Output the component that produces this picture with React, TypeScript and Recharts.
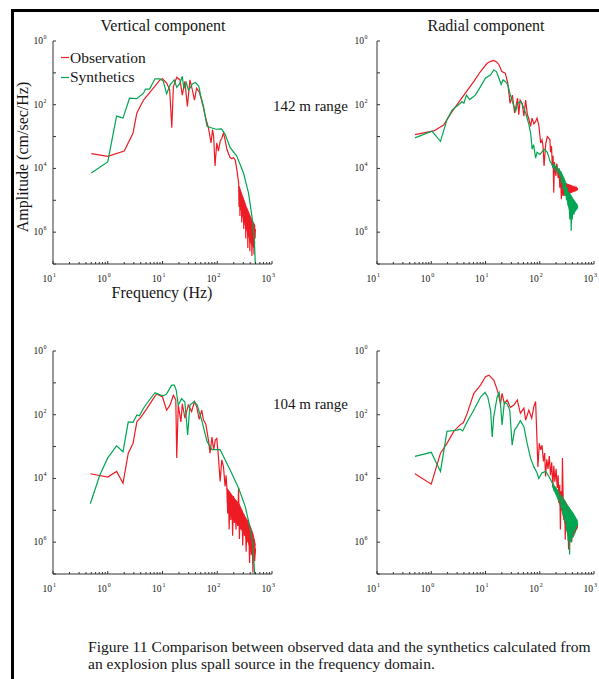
import { ComposedChart, Line, Area, XAxis, YAxis } from 'recharts'

type Pt = [number, number] // [frequency Hz, amplitude cm/sec/Hz]
type Band = [number, number, number] // [frequency Hz, lower, upper] envelope of a dense tail

const SERIF = '"Liberation Serif", "Times New Roman", serif'
const RED = '#ed1c24'
const GREEN = '#00a651'
const AXIS = '#333333'
const INK = '#161616'
const LINE_W = 1.2

// log axes: decades carry labels, the rest are minor marks
const freqDecades = [0.1, 1, 10, 100, 1000]
const freqDecadeLabels = ['1', '0', '1', '2', '3']
const freqMinorSteps = [2, 3, 4, 5, 6, 7, 8, 9]
const ampDecades = [1, 1e-1, 1e-2, 1e-3, 1e-4, 1e-5, 1e-6, 1e-7]
const ampLabels = ['0', '', '2', '', '4', '', '6', '']

// 142 m range, vertical component
const verticalObs142: Pt[] = [
  [0.5, 2.9e-4], [1.0, 2.4e-4], [2.0, 3.5e-4], [2.9, 1.3e-3], [3.4, 5.5e-3], [4.5, 1.4e-2],
  [6.8, 3.3e-2], [9.0, 6.0e-2], [10, 6.5e-2], [11.9, 4.8e-2], [13.5, 3.0e-2], [14.8, 1.9e-3],
  [15.8, 3.7e-2], [18.2, 7.3e-2], [20.9, 6.0e-2], [23, 2.0e-2], [25.6, 5.4e-2], [28.5, 8.9e-3],
  [31.7, 6.0e-2], [35, 3.0e-2], [38.4, 1.4e-2], [42, 3.3e-2], [47, 2.5e-2], [52, 1.35e-2],
  [56, 7.9e-3], [60, 4.5e-3], [69, 1.86e-3], [77, 6.3e-4], [82, 1.66e-3], [86, 1.0e-3],
  [91, 1.2e-4], [98, 6.3e-4], [105, 3.5e-4], [113, 7.1e-4], [121, 8.9e-4], [130, 1.3e-3],
  [139, 7.9e-4], [150, 4.0e-4], [162, 2.8e-4], [172, 2.2e-4], [185, 2.0e-4], [198, 2.2e-4],
  [214, 1.8e-4], [229, 8.7e-5], [246, 3.5e-5], [250, 6.3e-6], [255, 2.5e-5], [260, 3.2e-6],
  [265, 2.0e-5], [270, 5.0e-6], [275, 1.6e-5], [280, 2.0e-6], [285, 1.26e-5], [292, 4.0e-6],
  [298, 1.0e-5], [305, 1.26e-6], [312, 7.9e-6], [318, 2.5e-6], [325, 6.3e-6], [332, 6.3e-7],
  [340, 5.0e-6], [348, 1.26e-6], [355, 4.5e-6], [362, 3.2e-7], [370, 3.2e-6], [378, 7.9e-7],
  [386, 3.2e-6], [394, 2.5e-7], [402, 2.5e-6], [410, 5.0e-7], [420, 2.0e-6], [430, 1.8e-7],
  [440, 1.6e-6], [450, 4.0e-7], [460, 1.26e-6], [470, 2.0e-7], [480, 1.6e-6], [490, 6.3e-7],
  [497, 1.26e-6],
]
const verticalObs142Band: Band[] = [
  [250, 1.26e-5, 2.8e-5], [280, 4.0e-6, 1.6e-5], [310, 2.0e-6, 1.0e-5], [340, 1.26e-6, 6.3e-6],
  [370, 7.9e-7, 4.5e-6], [400, 5.0e-7, 3.2e-6], [430, 4.0e-7, 2.5e-6], [460, 3.2e-7, 2.0e-6],
  [490, 5.0e-7, 1.6e-6],
]
const verticalSyn142: Pt[] = [
  [0.5, 7.2e-5], [1.0, 1.6e-4], [1.45, 4.4e-3], [1.9, 3.8e-3], [2.5, 1.6e-2], [3.4, 1.55e-2],
  [4.5, 2.3e-2], [4.9, 3.1e-2], [5.8, 3.1e-2], [7.3, 6.5e-2], [9.0, 6.5e-2], [10.3, 5.6e-2],
  [11.9, 2.2e-2], [13.8, 4.2e-2], [16.4, 6.0e-2], [18.2, 3.5e-2], [20.5, 4.5e-2], [23, 7.8e-2],
  [24.5, 3.2e-2], [27, 5.0e-2], [30, 2.8e-2], [35, 4.5e-2], [40, 5.0e-2], [46, 3.8e-2],
  [50, 1.9e-2], [56, 9.0e-3], [65, 2.1e-3], [80, 1.86e-3], [95, 1.7e-3], [120, 1.74e-3],
  [140, 1.15e-3], [172, 4.5e-4], [226, 2.5e-4], [302, 7.2e-5], [372, 1.7e-5], [430, 3.2e-6],
  [475, 6.0e-7], [495, 1.1e-7],
]

// 142 m range, radial component
const radialObs142: Pt[] = [
  [0.5, 1.15e-3], [1.11, 1.5e-3], [1.69, 2.3e-3], [2.43, 6.2e-3], [4.0, 2.0e-2], [6.1, 5.4e-2],
  [8.1, 0.11], [10.7, 0.2], [12.5, 0.23], [14.2, 0.245], [16, 0.22], [17.7, 0.18], [20, 0.11],
  [23.2, 0.098], [25.7, 0.048], [28.4, 0.011], [31.3, 0.02], [34.5, 5.5e-3], [39, 0.016],
  [41, 4.9e-3], [43.5, 0.014], [47.5, 0.011], [51, 4.4e-3], [55, 0.014], [59, 5.0e-3],
  [63, 3.5e-3], [68, 2.1e-3], [72, 3.8e-3], [78, 2.5e-3], [84, 3.0e-3], [89, 3.8e-3],
  [96, 2.3e-3], [104, 6.3e-4], [110, 7.9e-4], [115, 5.0e-4], [120, 1.2e-4], [129, 6.0e-4],
  [138, 1.0e-3], [146, 8.9e-4], [154, 7.9e-4], [158, 3.2e-4], [165, 5.0e-4], [170, 1.2e-4],
  [176, 2.5e-4], [181, 1.74e-5], [187, 1.6e-4], [193, 7.9e-5], [199, 5.8e-5], [205, 1.4e-4],
  [210, 1.2e-4], [218, 5.0e-5], [226, 1.0e-4], [234, 2.5e-5], [242, 6.3e-5], [250, 1.07e-5],
  [258, 5.0e-5], [266, 1.4e-5], [273, 4.5e-5], [282, 1.6e-5], [292, 3.5e-5], [302, 1.6e-5],
  [313, 3.3e-5], [324, 1.66e-5], [336, 3.2e-5], [348, 1.74e-5], [360, 3.0e-5], [373, 1.8e-5],
  [386, 2.9e-5], [400, 1.9e-5], [415, 2.75e-5], [430, 2.0e-5], [446, 2.6e-5], [462, 2.1e-5],
  [480, 2.5e-5], [500, 2.2e-5],
]
const radialObs142Band: Band[] = [
  [270, 1.4e-5, 3.5e-5], [330, 1.6e-5, 3.2e-5], [400, 1.8e-5, 2.8e-5], [460, 2.0e-5, 2.5e-5],
  [500, 2.1e-5, 2.3e-5],
]
const radialSyn142: Pt[] = [
  [0.5, 9.1e-4], [1.03, 1.48e-3], [1.48, 7.1e-4], [1.95, 3.4e-3], [2.43, 6.9e-3], [3.2, 1.0e-2],
  [3.7, 1.26e-2], [4.0, 1.12e-2], [4.45, 2.0e-2], [5.1, 1.45e-2], [6.5, 2.0e-2], [8.1, 3.7e-2],
  [9.96, 6.8e-2], [12.4, 8.7e-2], [14.2, 0.123], [15.9, 0.11], [17.7, 6.8e-2], [19.4, 4.3e-2],
  [21, 6.0e-2], [23.2, 5.4e-2], [25.7, 4.3e-2], [28.7, 2.0e-2], [33.4, 8.9e-3], [36, 6.3e-3],
  [39.5, 1.12e-2], [44, 1.26e-2], [48, 1.0e-2], [55, 5.5e-3], [63, 2.4e-3], [68, 1.26e-3],
  [72.5, 4.0e-4], [77, 5.6e-4], [84, 2.1e-4], [89, 3.2e-4], [101, 2.75e-4], [120, 4.0e-4],
  [138, 3.2e-4], [154, 1.7e-4], [170, 1.32e-4], [178, 1.0e-4], [186, 1.41e-4], [195, 8.9e-5],
  [205, 1.12e-4], [215, 7.1e-5], [226, 1.0e-4], [234, 5.8e-5], [242, 8.3e-5], [251, 3.5e-5],
  [260, 6.3e-5], [270, 2.2e-5], [279, 4.5e-5], [290, 1.4e-5], [300, 3.5e-5], [311, 1.0e-5],
  [322, 2.5e-5], [333, 6.6e-6], [345, 1.74e-5], [358, 2.5e-6], [371, 1.4e-5], [380, 1.1e-6],
  [390, 1.12e-5], [398, 2.5e-6], [410, 1.0e-5], [427, 3.5e-6], [440, 8.9e-6], [458, 4.7e-6],
  [475, 7.9e-6], [491, 5.5e-6], [500, 6.6e-6],
]
const radialSyn142Band: Band[] = [
  [170, 1.12e-4, 1.32e-4], [200, 8.9e-5, 1.12e-4], [242, 5.8e-5, 8.3e-5], [280, 2.5e-5, 5.0e-5],
  [320, 1.0e-5, 2.8e-5], [360, 4.0e-6, 1.6e-5], [400, 3.5e-6, 1.2e-5], [450, 4.5e-6, 8.9e-6],
  [500, 5.9e-6, 6.9e-6],
]

// 104 m range, vertical component
const verticalObs104: Pt[] = [
  [0.48, 1.4e-4], [1.0, 1.1e-4], [1.45, 1.66e-4], [1.9, 7.1e-5], [2.37, 6.2e-4], [2.9, 1.26e-3],
  [3.4, 6.0e-3], [4.1, 8.7e-3], [5.1, 1.5e-2], [6.8, 3.2e-2], [7.8, 4.5e-2], [10, 3.6e-2],
  [11.9, 1.4e-2], [13.7, 2.0e-2], [15.8, 4.1e-2], [17.5, 2.9e-2], [18.2, 4.4e-4], [19.4, 2.0e-2],
  [21.7, 6.0e-3], [23, 2.2e-2], [25.7, 7.8e-3], [29.6, 2.0e-2], [34, 1.26e-2], [38.4, 2.6e-2],
  [42, 1.8e-2], [47, 7.1e-3], [52, 1.4e-2], [56, 6.8e-3], [62, 5.0e-3], [69, 1.6e-3],
  [74, 6.2e-4], [80, 2.0e-3], [86, 7.9e-4], [92, 1.6e-3], [98, 1.8e-3], [105, 4.9e-4],
  [113, 8.1e-5], [121, 3.8e-4], [130, 2.3e-4], [139, 5.6e-5], [145, 1.26e-4], [150, 5.0e-5],
  [155, 7.9e-6], [160, 4.0e-5], [165, 2.5e-6], [171, 3.2e-5], [177, 5.0e-6], [184, 2.5e-5],
  [191, 1.6e-6], [198, 2.8e-5], [205, 4.0e-6], [212, 2.0e-5], [220, 2.5e-6], [228, 1.6e-5],
  [236, 3.2e-6], [245, 5.0e-5], [254, 1.26e-6], [263, 1.26e-5], [272, 2.5e-6], [282, 1.0e-5],
  [292, 7.9e-7], [303, 7.9e-6], [314, 1.6e-6], [325, 5.6e-6], [337, 5.0e-7], [349, 5.0e-6],
  [362, 1.0e-6], [375, 3.5e-6], [389, 2.2e-7], [403, 3.2e-6], [418, 4.0e-7], [433, 2.0e-6],
  [449, 1.1e-7], [465, 1.26e-6], [482, 2.5e-7], [500, 6.3e-7],
]
const verticalObs104Band: Band[] = [
  [150, 2.0e-5, 5.0e-5], [200, 5.0e-6, 2.5e-5], [250, 3.2e-6, 1.6e-5], [300, 2.0e-6, 7.9e-6],
  [350, 1.26e-6, 5.0e-6], [400, 6.3e-7, 3.2e-6], [450, 3.2e-7, 1.8e-6], [500, 5.0e-7, 7.9e-7],
]
const verticalSyn104: Pt[] = [
  [0.48, 1.6e-5], [0.72, 1.3e-4], [1.0, 4.4e-4], [1.45, 1.05e-3], [1.9, 6.9e-4], [2.37, 6.0e-3],
  [2.9, 5.8e-3], [3.4, 9.8e-3], [3.8, 9.3e-3], [4.5, 1.6e-2], [5.5, 2.6e-2], [7.3, 4.9e-2],
  [9.0, 4.2e-2], [10.3, 3.9e-2], [11.9, 4.5e-2], [14.7, 8.5e-2], [16.4, 8.5e-2], [17.8, 5.9e-2],
  [19.4, 2.0e-2], [22.3, 3.2e-2], [25.6, 2.5e-2], [28.8, 2.3e-3], [31.7, 2.0e-2], [37.9, 2.6e-2],
  [43, 2.0e-2], [52, 6.8e-3], [65, 1.45e-3], [80, 8.0e-4], [113, 8.0e-4], [130, 4.9e-4],
  [171, 1.86e-4], [245, 5.0e-5], [325, 1.3e-5], [403, 2.5e-6], [450, 7.4e-7], [480, 1.1e-7],
  [495, 5.0e-8],
]

// 104 m range, radial component
const radialObs104: Pt[] = [
  [0.5, 1.4e-4], [1.0, 6.6e-5], [1.48, 6.2e-4], [1.95, 1.26e-3], [2.6, 3.0e-3], [3.4, 4.8e-3],
  [3.9, 5.6e-3], [4.6, 1.1e-2], [6.1, 4.7e-2], [8.1, 8.5e-2], [10, 0.155], [11.6, 0.174],
  [14.3, 0.12], [16.9, 5.2e-2], [18.9, 2.2e-2], [20.2, 4.7e-2], [22.3, 2.2e-2], [25, 2.9e-2],
  [28.7, 1.7e-2], [33.4, 2.0e-2], [38.5, 2.9e-2], [44, 1.1e-2], [51, 1.6e-2], [55, 6.8e-3],
  [63, 1.4e-2], [71, 7.8e-3], [77.9, 1.8e-2], [83.9, 2.6e-2], [87.6, 3.3e-3], [92.5, 2.3e-4],
  [98, 1.26e-3], [104, 7.9e-4], [110, 1.1e-3], [117, 3.4e-4], [123, 6.3e-4], [128, 1.15e-4],
  [135, 4.0e-4], [142, 2.0e-4], [150, 5.0e-4], [158, 1.26e-4], [166, 3.2e-4], [174, 5.6e-5],
  [182, 2.5e-4], [190, 7.9e-5], [200, 2.0e-4], [210, 5.0e-5], [218, 1.26e-4], [226, 1.7e-5],
  [234, 6.3e-5], [240, 2.5e-6], [248, 4.0e-5], [256, 1.0e-5], [262, 4.4e-4], [270, 2.5e-5],
  [280, 5.0e-6], [290, 2.0e-5], [295, 1.2e-6], [305, 1.6e-5], [315, 2.5e-6], [325, 1.26e-5],
  [340, 5.9e-7], [350, 1.0e-5], [362, 1.6e-6], [375, 7.9e-6], [388, 1.0e-6], [400, 6.3e-6],
  [415, 1.6e-6], [430, 5.0e-6], [445, 2.0e-6], [460, 4.5e-6], [480, 2.5e-6], [500, 3.5e-6],
]
const radialSyn104: Pt[] = [
  [0.5, 4.9e-4], [1.0, 6.6e-4], [1.48, 1.66e-4], [1.95, 3.0e-3], [2.6, 3.2e-3], [3.0, 3.3e-3],
  [3.4, 3.5e-3], [3.8, 3.1e-3], [4.6, 6.0e-3], [6.1, 1.4e-2], [8.1, 3.6e-2], [9.8, 5.0e-2],
  [11.0, 3.6e-2], [12.4, 1.4e-2], [13.3, 2.0e-3], [14.2, 8.7e-3], [16.4, 3.6e-2], [17.9, 4.9e-2],
  [18.9, 2.2e-2], [20.2, 4.8e-3], [22.3, 2.5e-2], [25, 2.2e-2], [28, 1.4e-2], [31, 1.1e-3],
  [34.3, 3.3e-3], [38.5, 4.4e-3], [44, 6.5e-3], [51, 4.2e-3], [58.6, 1.26e-3], [67.5, 4.4e-4],
  [77.9, 2.3e-4], [89, 1.5e-4], [96, 1.0e-4], [110, 1.5e-4], [129, 1.66e-4], [148, 1.15e-4],
  [171, 7.1e-5], [175, 6.3e-5], [182, 4.5e-5], [190, 5.6e-5], [198, 3.5e-5], [206, 4.5e-5],
  [214, 2.5e-5], [222, 4.0e-5], [231, 1.8e-5], [240, 3.2e-5], [250, 1.1e-5], [260, 2.8e-5],
  [270, 7.1e-6], [280, 2.2e-5], [290, 4.5e-6], [300, 1.8e-5], [311, 2.5e-6], [322, 1.4e-5],
  [333, 1.1e-6], [345, 1.26e-5], [355, 4.1e-7], [366, 1.05e-5], [378, 1.0e-6], [390, 8.9e-6],
  [403, 1.4e-6], [417, 7.9e-6], [432, 2.0e-6], [447, 6.3e-6], [462, 2.5e-6], [478, 5.2e-6],
  [492, 3.2e-6], [500, 4.0e-6],
]
const radialSyn104Band: Band[] = [
  [171, 5.6e-5, 7.1e-5], [210, 2.5e-5, 4.5e-5], [250, 1.12e-5, 2.8e-5], [290, 4.0e-6, 2.0e-5],
  [330, 1.6e-6, 1.4e-5], [370, 1.26e-6, 1.05e-5], [410, 1.4e-6, 8.3e-6], [450, 2.0e-6, 6.3e-6],
  [500, 3.2e-6, 4.5e-6],
]

const freqTicks = freqDecades.flatMap((d, i) =>
  i < freqDecades.length - 1 ? [d, ...freqMinorSteps.map((m) => m * d)] : [d]
)

function FreqTick(props: any) {
  const { x, y, payload } = props
  const idx = freqDecades.indexOf(payload.value)
  const major = idx >= 0
  return (
    <g>
      <line x1={x} x2={x} y1={y} y2={y - (major ? 3 : 2)} stroke={AXIS} strokeWidth={1} />
      {major && (
        <>
          <text x={x - 1} y={y + 18} textAnchor="end" fontSize={9.5} fontFamily={SERIF} fill={INK}>
            10
          </text>
          <text x={x} y={y + 13} fontSize={6} fontFamily={SERIF} fill={INK}>
            {freqDecadeLabels[idx]}
          </text>
        </>
      )}
    </g>
  )
}

function AmpTick(props: any) {
  const { x, y, payload, gap } = props
  const label = ampLabels[ampDecades.indexOf(payload.value)]
  return (
    <g>
      <line x1={x} x2={x + 3} y1={y} y2={y} stroke={AXIS} strokeWidth={1} />
      {label && (
        <>
          <text x={x - gap} y={y + 3} textAnchor="end" fontSize={9.5} fontFamily={SERIF} fill={INK}>
            10
          </text>
          <text x={x - gap + 0.5} y={y - 2} fontSize={6} fontFamily={SERIF} fill={INK}>
            {label}
          </text>
        </>
      )}
    </g>
  )
}

const toRows = (pts: Pt[]) => pts.map(([f, a]) => ({ f, a }))
const toBandRows = (pts: Band[]) => pts.map(([f, lo, hi]) => ({ f, band: [lo, hi] }))

function Spectrum({
  left,
  top,
  width,
  axisWidth,
  rightPad,
  labelGap,
  obs,
  syn,
  obsBand,
  synBand,
}: {
  left: number
  top: number
  width: number
  axisWidth: number
  rightPad: number
  labelGap: number
  obs: Pt[]
  syn: Pt[]
  obsBand?: Band[]
  synBand?: Band[]
}) {
  return (
    <div style={{ position: 'absolute', left, top }}>
      <ComposedChart width={width} height={300} margin={{ top: 41, right: rightPad, bottom: 0, left: 0 }}>
        <XAxis
          type="number"
          dataKey="f"
          scale="log"
          domain={[0.1, 1000]}
          allowDataOverflow
          ticks={freqTicks}
          interval={0}
          tickSize={0}
          tickMargin={0}
          tickLine={false}
          height={36}
          stroke={AXIS}
          tick={(p: any) => <FreqTick {...p} />}
        />
        <YAxis
          type="number"
          scale="log"
          domain={[1e-7, 1]}
          allowDataOverflow
          ticks={ampDecades}
          interval={0}
          tickSize={0}
          tickMargin={0}
          tickLine={false}
          width={axisWidth}
          stroke={AXIS}
          tick={(p: any) => <AmpTick {...p} gap={labelGap} />}
        />
        {obsBand && (
          <Area data={toBandRows(obsBand)} dataKey="band" type="linear" stroke={RED} strokeWidth={0.8} fill={RED} fillOpacity={1} isAnimationActive={false} />
        )}
        <Line data={toRows(obs)} dataKey="a" stroke={RED} strokeWidth={LINE_W} dot={false} isAnimationActive={false} />
        {synBand && (
          <Area data={toBandRows(synBand)} dataKey="band" type="linear" stroke={GREEN} strokeWidth={0.8} fill={GREEN} fillOpacity={1} isAnimationActive={false} />
        )}
        <Line data={toRows(syn)} dataKey="a" stroke={GREEN} strokeWidth={LINE_W} dot={false} isAnimationActive={false} />
      </ComposedChart>
    </div>
  )
}

export default function App() {
  const txt = { fontFamily: SERIF, fill: INK }
  return (
    <div style={{ position: 'absolute', left: 0, top: 0, width: 599, height: 679, overflow: 'hidden', background: '#fff' }}>
      <div
        style={{
          position: 'absolute',
          left: 11,
          top: 9,
          width: 620,
          height: 700,
          borderTop: '3px solid #000',
          borderLeft: '3px solid #000',
        }}
      />
      <svg width={599} height={679} style={{ position: 'absolute', left: 0, top: 0 }}>
        <text x={163} y={31} textAnchor="middle" fontSize={16} {...txt}>Vertical component</text>
        <text x={486} y={31} textAnchor="middle" fontSize={16} {...txt}>Radial component</text>
        <line x1={61} x2={69} y1={57.5} y2={57.5} stroke={RED} strokeWidth={1.2} />
        <text x={70} y={63} fontSize={15.5} {...txt}>Observation</text>
        <line x1={61} x2={69} y1={77.5} y2={77.5} stroke={GREEN} strokeWidth={1.2} />
        <text x={70} y={82} fontSize={15.5} {...txt}>Synthetics</text>
        <text x={273} y={111} fontSize={15} {...txt}>142 m range</text>
        <text x={273} y={409} fontSize={15} {...txt}>104 m range</text>
        <text transform="translate(28 157) rotate(-90)" textAnchor="middle" fontSize={16} {...txt}>
          Amplitude  (cm/sec/Hz)
        </text>
        <text x={162} y={298} textAnchor="middle" fontSize={16} {...txt}>Frequency  (Hz)</text>
        <text x={88} y={652} fontSize={15.6} {...txt}>
          Figure 11  Comparison between observed data and the synthetics calculated from
        </text>
        <text x={88} y={669} fontSize={15.6} {...txt}>
          an explosion plus spall source in the frequency domain.
        </text>
      </svg>
      <Spectrum left={0} top={0} width={300} axisWidth={53} rightPad={28} labelGap={10} obs={verticalObs142} syn={verticalSyn142} obsBand={verticalObs142Band} />
      <Spectrum left={300} top={0} width={299} axisWidth={77} rightPad={5} labelGap={13} obs={radialObs142} syn={radialSyn142} obsBand={radialObs142Band} synBand={radialSyn142Band} />
      <Spectrum left={0} top={310} width={300} axisWidth={53} rightPad={28} labelGap={10} obs={verticalObs104} syn={verticalSyn104} obsBand={verticalObs104Band} />
      <Spectrum left={300} top={310} width={299} axisWidth={77} rightPad={5} labelGap={13} obs={radialObs104} syn={radialSyn104} synBand={radialSyn104Band} />
    </div>
  )
}
